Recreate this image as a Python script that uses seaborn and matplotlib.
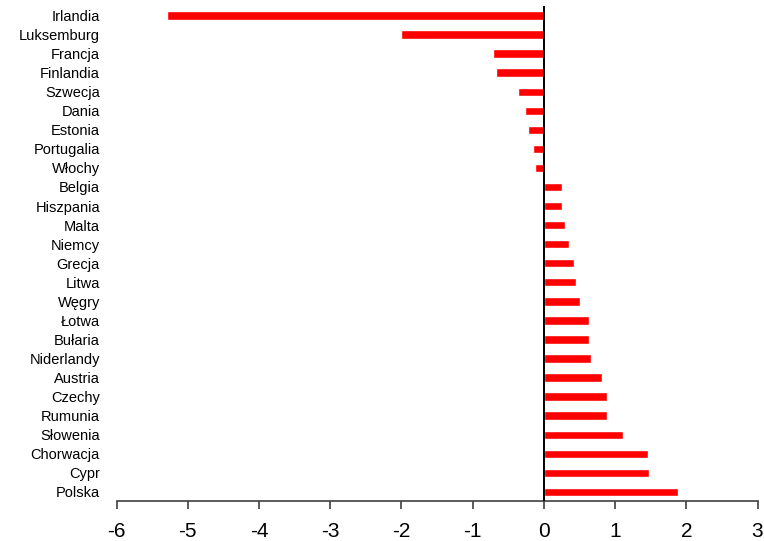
import matplotlib
matplotlib.use("Agg")
import matplotlib.pyplot as plt
import seaborn as sns
import pandas as pd

countries = ["Irlandia", "Luksemburg", "Francja", "Finlandia", "Szwecja", "Dania",
             "Estonia", "Portugalia", "Włochy", "Belgia", "Hiszpania", "Malta",
             "Niemcy", "Grecja", "Litwa", "Węgry", "Łotwa", "Bułaria", "Niderlandy",
             "Austria", "Czechy", "Rumunia", "Słowenia", "Chorwacja", "Cypr", "Polska"]
values = [-5.30, -2.01, -0.72, -0.67, -0.36, -0.26, -0.22, -0.15, -0.13,
          0.25, 0.25, 0.30, 0.35, 0.42, 0.45, 0.51, 0.64, 0.64, 0.66,
          0.82, 0.88, 0.88, 1.11, 1.46, 1.47, 1.89]
x_ticks = [-6, -5, -4, -3, -2, -1, 0, 1, 2, 3]

sns.set_theme(style="white")
plt.rcParams["font.family"] = ["Liberation Sans Narrow", "Liberation Sans", "DejaVu Sans"]

df = pd.DataFrame({"kraj": countries, "wartosc": values})

fig = plt.figure(figsize=(7.64, 5.41), dpi=100)
ax = fig.add_axes([0.1527, 0.0739, 0.9915 - 0.1527, 0.989 - 0.0739])

sns.barplot(data=df, x="wartosc", y="kraj", orient="h", color="#FF0000",
            width=0.44, saturation=1, ax=ax)

n = len(countries)
ax.set_xlim(-6, 3)
ax.set_ylim(n - 1 + 0.48, -0.5)
ax.set_xticks(x_ticks)
ax.set_xticklabels([str(t) for t in x_ticks], fontsize=15)
ax.set_xlabel("")
ax.set_ylabel("")

# zero reference line
ax.axvline(0, color="black", lw=1.4, zorder=3)

for s in ["top", "right", "left"]:
    ax.spines[s].set_visible(False)
ax.spines["bottom"].set_color("#404040")
ax.spines["bottom"].set_linewidth(1.2)
ax.tick_params(axis="x", direction="out", length=6, width=1.2, color="#404040",
               bottom=True, pad=9, labelcolor="black")
ax.tick_params(axis="y", length=0, pad=12, labelsize=10.5, labelcolor="black")

fig.savefig("out.png", dpi=100)
